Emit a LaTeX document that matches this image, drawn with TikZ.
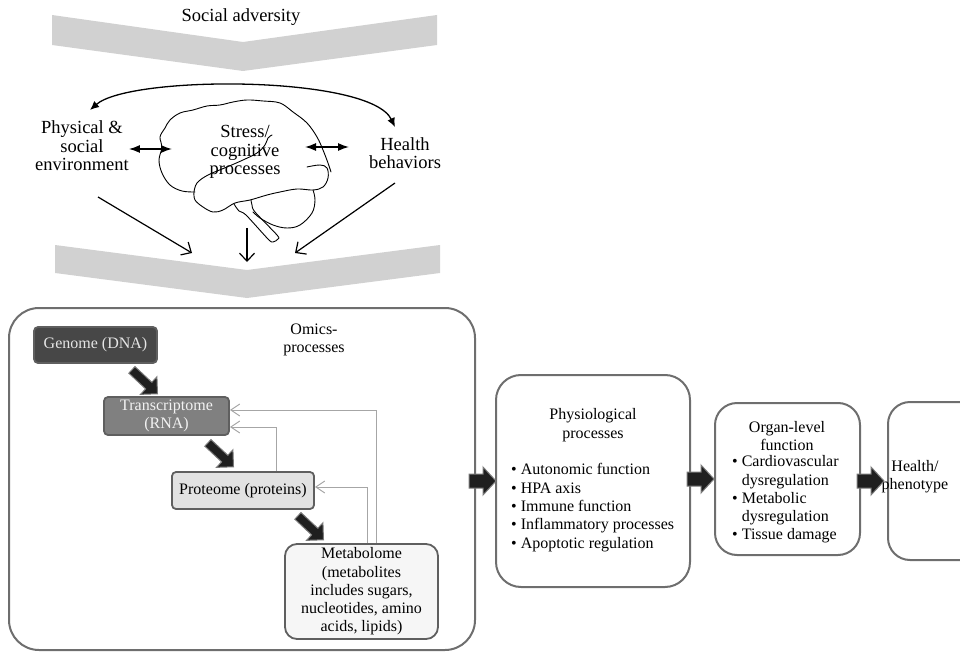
\documentclass[tikz,border=0pt]{standalone}
\usepackage{fontspec}
\setmainfont{Liberation Serif}
\usetikzlibrary{arrows.meta,calc}
\definecolor{chevgray}{HTML}{D1D1D1}
\definecolor{panelgray}{HTML}{6E6E6E}
\definecolor{oboxgray}{HTML}{5F5F5F}
\definecolor{genomefill}{HTML}{474747}
\definecolor{trfill}{HTML}{808080}
\definecolor{protfill}{HTML}{E2E2E2}
\definecolor{metfill}{HTML}{F6F6F6}
\definecolor{fbgray}{HTML}{A6A6A6}
\definecolor{blkfill}{HTML}{1F1F1F}
\definecolor{blkedge}{HTML}{7A7A7A}
\tikzset{
  toptxt/.style={font=\fontsize{18.5}{18.5}\selectfont, align=center, inner sep=0pt},
  txt/.style={font=\fontsize{16}{18.3}\selectfont, align=center, inner sep=0pt},
  panel/.style={draw=panelgray, line width=2pt, rounded corners=#1, inner sep=0pt},
  obox/.style={draw=oboxgray, line width=1.8pt, rounded corners=4pt, inner sep=0pt, font=\fontsize{16}{18.3}\selectfont, align=center},
  brainline/.style={line width=0.9pt, line join=round, line cap=round},
  arcarrow/.style={line width=1.3pt, {Latex[length=9pt,width=8pt]}-{Latex[length=9pt,width=8pt]}},
  dblarrow/.style={line width=1.3pt, {Latex[length=11pt,width=8pt]}-{Latex[length=11pt,width=8pt]}},
  downarrow/.style={line width=1.2pt, -{Straight Barb[length=8pt,width=15pt]}},
  fb/.style={draw=fbgray, line width=1pt, -{Straight Barb[length=9pt,width=12pt]}},
  hblk/.pic={\filldraw[fill=blkfill, draw=blkedge, line width=1pt] (0,-7) -- (14,-7) -- (14,-14) -- (27,0) -- (14,14) -- (14,7) -- (0,7) -- cycle;},
  dblk/.pic={\filldraw[fill=blkfill, draw=blkedge, line width=1pt] (0,-4.5) -- (23,-4.5) -- (23,-12) -- (35,0) -- (23,12) -- (23,4.5) -- (0,4.5) -- cycle;}
}
\begin{document}
\begin{tikzpicture}[x=1pt,y=-1pt]
\clip (0,0) rectangle (960,652);
% ---------- chevrons ----------
\fill[chevgray] (52,15) -- (243,42) -- (437,15) -- (437,45) -- (243,71) -- (52,45) -- cycle;
\fill[chevgray] (55,245) -- (247,270) -- (440,245) -- (440,273) -- (247,298) -- (55,273) -- cycle;
\node[toptxt] (adv) at (241,17) {Social adversity};

% ---------- brain ----------
\draw[brainline] plot[smooth, tension=0.6] coordinates {(195,192) (182,191) (170,185) (162,173) (159,160) (162,147) (160,137) (165,128) (170,120) (180,113) (193,110) (207,106) (220,105) (233,102) (247,100) (263,101) (280,103) (293,112) (307,123) (317,137) (323,150) (328,163) (331,172)};
\draw[brainline] plot[smooth, tension=0.6] coordinates {(194,192) (197,183) (208,175) (227,167) (243,160) (257,153) (265,145) (268,138) (272,135)};
\draw[brainline] plot[smooth, tension=0.6] coordinates {(194,192) (195,200) (203,207) (213,212) (223,210) (235,203) (250,200) (267,195) (280,192) (297,189) (313,190) (323,187) (328,178) (327,168) (320,165) (307,167)};
\draw[brainline] plot[smooth, tension=0.6] coordinates {(313,190) (315,200) (312,213) (300,225) (287,228) (273,225) (260,218) (253,212)};
\draw[brainline] plot[smooth, tension=0.5] coordinates {(234,204) (239,211) (246,215) (268,239) (273,242) (278,239) (277,235) (255,212) (252,205) (251,200)};

% ---------- top texts ----------
\node[toptxt] (env) at (82,146) {Physical \&\\social\\environment};
\node[toptxt] (stress) at (245,152) {Stress/\\cognitive\\processes};
\node[toptxt] (hb) at (405,153) {Health\\behaviors};

% ---------- top connectors ----------
\coordinate (arcL) at (90,110);
\coordinate (arcR) at (395,127);
\draw[arcarrow] (arcL) .. controls (130,75) and (370,75) .. (arcR);
\coordinate (brL) at (172,149);
\draw[dblarrow] (env.east |- brL) -- (brL);
\coordinate (brR) at (305,147);
\coordinate (hbW) at (349,147);
\draw[dblarrow] (brR) -- (hbW);
\coordinate (envS) at (98,197);
\coordinate (chevL) at (192,253);
\coordinate (brainS) at (247,228);
\coordinate (chevM) at (247,262);
\coordinate (hbS) at (395,183);
\coordinate (chevR) at (295,253);
\draw[downarrow] (envS) -- (chevL);
\draw[downarrow] (brainS) -- (chevM);
\draw[downarrow] (hbS) -- (chevR);

% ---------- omics panel ----------
\node[panel=30pt, minimum width=466pt, minimum height=342pt] (omics) at (242,479) {};
\node[txt] (omicslbl) at (314,340) {Omics-\\processes};
\node[obox, fill=genomefill, text=white!90!black, minimum width=123pt, minimum height=36pt] (genome) at (95.5,345) {Genome (DNA)};
\node[obox, fill=trfill, text=white!95!black, minimum width=125pt, minimum height=38pt] (tr) at (166.5,416) {Transcriptome\\(RNA)};
\node[obox, fill=protfill, minimum width=142pt, minimum height=37pt] (prot) at (243,490.5) {Proteome (proteins)};
\node[obox, fill=metfill, rounded corners=12pt, minimum width=153pt, minimum height=95pt] (met) at (361.5,591.5) {Metabolome\\(metabolites\\includes sugars,\\nucleotides, amino\\acids, lipids)};

\pic[rotate=-43] at ($(genome.south east)+(-26,6)$) {dblk};
\pic[rotate=-43] at ($(tr.south east)+(-22,7)$) {dblk};
\pic[rotate=-43] at ($(prot.south east)+(-17,6)$) {dblk};

\draw[fb] ([xshift=14.5pt]met.north) |- ([yshift=6pt]tr.east);
\draw[fb] ([xshift=33pt]prot.north) |- ([yshift=-11pt]tr.east);
\draw[fb] ([xshift=5.5pt]met.north) |- ([yshift=3.5pt]prot.east);

% ---------- right panels ----------
\node[panel=25pt, minimum width=194pt, minimum height=212pt] (phys) at (593,481) {};
\node[txt] (physttl) at (593,425) {Physiological\\processes};
\node[txt, align=left, anchor=west] (physlist) at (511,507.5) {• Autonomic function\\• HPA axis\\• Immune function\\• Inflammatory processes\\• Apoptotic regulation};

\node[panel=22pt, minimum width=145pt, minimum height=152pt] (organ) at (787.5,479) {};
\node[txt] (organttl) at (787,436) {Organ-level\\function};
\node[txt, align=left, anchor=west] (organlist) at (732,499.5) {• Cardiovascular\\\phantom{• }dysregulation\\• Metabolic\\\phantom{• }dysregulation\\• Tissue damage};

\node[panel=22pt, minimum width=97pt, minimum height=158pt] (health) at (936.5,481) {};
\node[txt] (healthttl) at (915,477) {Health/\\phenotype};

\pic at ([xshift=-26pt]phys.west) {hblk};
\pic at ([xshift=-27pt]organ.west) {hblk};
\pic at ([xshift=-30pt]health.west) {hblk};
\end{tikzpicture}
\end{document}
